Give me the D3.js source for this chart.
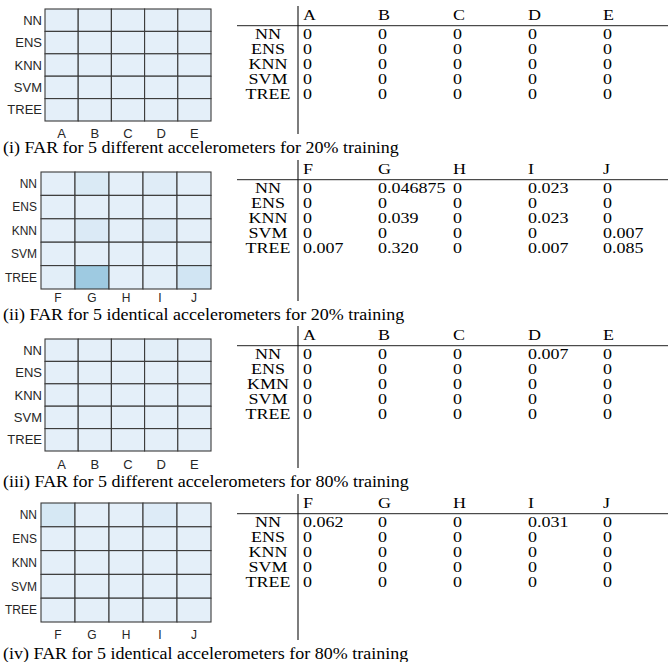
<!DOCTYPE html>
<html>
<head>
<meta charset="utf-8">
<script src="https://cdn.jsdelivr.net/npm/d3@7"></script>
<style>
html,body{margin:0;padding:0;background:#fff;}
svg{display:block;}
</style>
</head>
<body>
<svg id="chart" width="669" height="662"></svg>
<script>
// ---------------- DATA ----------------
const models = ["NN", "ENS", "KNN", "SVM", "TREE"];
const modelsTable3 = ["NN", "ENS", "KMN", "SVM", "TREE"];
const colsDifferent = ["A", "B", "C", "D", "E"];
const colsIdentical = ["F", "G", "H", "I", "J"];

const far20Different = [
  ["0", "0", "0", "0", "0"],
  ["0", "0", "0", "0", "0"],
  ["0", "0", "0", "0", "0"],
  ["0", "0", "0", "0", "0"],
  ["0", "0", "0", "0", "0"]
];
const far20Identical = [
  ["0", "0.046875", "0", "0.023", "0"],
  ["0", "0", "0", "0", "0"],
  ["0", "0.039", "0", "0.023", "0"],
  ["0", "0", "0", "0", "0.007"],
  ["0.007", "0.320", "0", "0.007", "0.085"]
];
const far80Different = [
  ["0", "0", "0", "0.007", "0"],
  ["0", "0", "0", "0", "0"],
  ["0", "0", "0", "0", "0"],
  ["0", "0", "0", "0", "0"],
  ["0", "0", "0", "0", "0"]
];
const far80Identical = [
  ["0.062", "0", "0", "0.031", "0"],
  ["0", "0", "0", "0", "0"],
  ["0", "0", "0", "0", "0"],
  ["0", "0", "0", "0", "0"],
  ["0", "0", "0", "0", "0"]
];
const captions = [
  "(i) FAR for 5 different accelerometers for 20% training",
  "(ii) FAR for 5 identical accelerometers for 20% training",
  "(iii) FAR for 5 different accelerometers for 80% training",
  "(iv) FAR for 5 identical accelerometers for 80% training"
];

// ---------------- LAYOUT ----------------
const panels = [
  {data: far20Different, cols: colsDifferent, tRows: models,
   grid: [45, 211, 9, 121], rowLabelX: 42, labFont: 13, colLabelY: 138, capY: 153, tOff: 0},
  {data: far20Identical, cols: colsIdentical, tRows: models,
   grid: [41, 211, 172, 289], rowLabelX: 37, labFont: 12, colLabelY: 302, capY: 320, tOff: 154},
  {data: far80Different, cols: colsDifferent, tRows: modelsTable3,
   grid: [45, 211, 339, 451], rowLabelX: 42, labFont: 13, colLabelY: 469, capY: 487, tOff: 320},
  {data: far80Identical, cols: colsIdentical, tRows: models,
   grid: [41, 211, 503, 622], rowLabelX: 37, labFont: 12, colLabelY: 639, capY: 659, tOff: 488}
];

const SERIF = "'Liberation Serif','Times New Roman',Times,serif";
const SANS = "'Liberation Sans',Arial,Helvetica,sans-serif";
const SERIF_SIZE = 18;
const CAP_VSQ = 0.9;
const TAB_VSQ = 0.8;

const color = d3.scaleLinear().domain([0, 0.32]).range(["#e4eff9", "#9ecae1"]);

const svg = d3.select("#chart");

function serifText(g, x, y, txt, anchor, vsq) {
  return g.append("text")
    .attr("transform", `translate(${x},${y}) scale(1,${vsq})`)
    .attr("text-anchor", anchor || "start")
    .attr("font-family", SERIF)
    .attr("font-size", SERIF_SIZE)
    .attr("fill", "#000")
    .text(txt);
}

panels.forEach((p, pi) => {
  const g = svg.append("g");
  const [gx0, gx1, gy0, gy1] = p.grid;
  const x = d3.scaleBand().domain(p.cols).range([gx0, gx1]);
  const y = d3.scaleBand().domain(models).range([gy0, gy1]);

  // heatmap cells
  const cells = [];
  p.data.forEach((row, ri) => row.forEach((v, ci) => cells.push({r: models[ri], c: p.cols[ci], v: +v})));
  g.selectAll("rect.cell").data(cells).enter().append("rect")
    .attr("class", "cell")
    .attr("x", d => x(d.c)).attr("y", d => y(d.r))
    .attr("width", x.bandwidth()).attr("height", y.bandwidth())
    .attr("fill", d => color(d.v))
    .attr("stroke", "#3a3a3a").attr("stroke-width", 1.1);

  // row labels
  g.selectAll("text.rl").data(models).enter().append("text")
    .attr("class", "rl")
    .attr("x", p.rowLabelX).attr("y", d => y(d) + y.bandwidth() / 2)
    .attr("dy", "0.36em").attr("text-anchor", "end")
    .attr("font-family", SANS).attr("font-size", p.labFont).attr("fill", "#262626")
    .text(d => d);

  // column labels
  g.selectAll("text.cl").data(p.cols).enter().append("text")
    .attr("class", "cl")
    .attr("x", d => x(d) + x.bandwidth() / 2).attr("y", p.colLabelY)
    .attr("text-anchor", "middle")
    .attr("font-family", SANS).attr("font-size", p.labFont).attr("fill", "#262626")
    .text(d => d);

  // caption
  serifText(g, 3, p.capY, captions[pi], "start", CAP_VSQ);

  // table
  const o = p.tOff;
  const tx = d3.scaleBand().domain(p.cols).range([303, 678]);
  const ty = d3.scaleBand().domain(p.tRows).range([o + 39.3 - 15, o + 39.3 + 60]);
  p.cols.forEach(c => serifText(g, tx(c), o + 20, c, "start", TAB_VSQ));
  g.append("line").attr("x1", 237).attr("x2", 668)
    .attr("y1", o + 25.7).attr("y2", o + 25.7)
    .attr("stroke", "#222").attr("stroke-width", 1);
  g.append("line").attr("x1", 298).attr("x2", 298)
    .attr("y1", o + 6).attr("y2", p.capY - 19)
    .attr("stroke", "#111").attr("stroke-width", 1.1);
  p.tRows.forEach(r => serifText(g, 268, ty(r) + 15, r, "middle", TAB_VSQ));
  p.data.forEach((row, ri) => row.forEach((v, ci) => {
    serifText(g, tx(p.cols[ci]), ty(p.tRows[ri]) + 15, v, "start", TAB_VSQ);
  }));
});
</script>
</body>
</html>
